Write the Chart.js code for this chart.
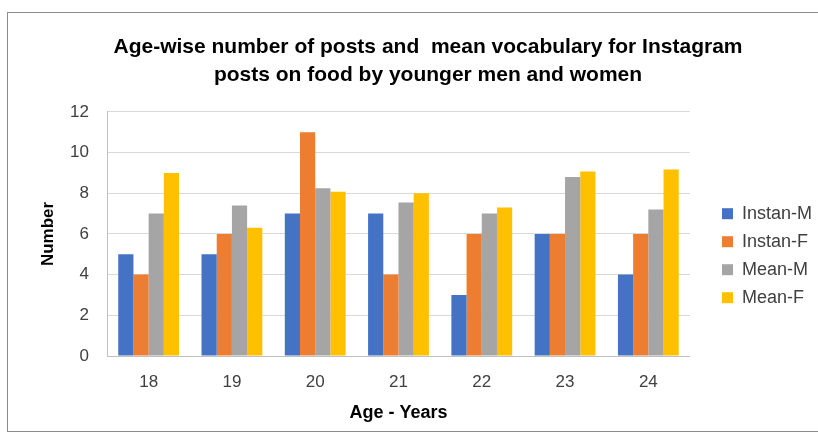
<!DOCTYPE html>
<html>
<head>
<meta charset="utf-8">
<script src="https://cdn.jsdelivr.net/npm/chart.js@4"></script>
<style>
  body { margin: 0; background: #fff; }
  #frame { position: absolute; left: 7px; top: 12px; width: 830px; height: 418px; border: 1px solid #8c8c8c; }
  #wrap { position: absolute; left: 0; top: 0; width: 818px; height: 436px; }
</style>
</head>
<body>
<div id="frame"></div>
<div id="wrap"><canvas id="chart"></canvas></div>
<script>
const ages = ["18", "19", "20", "21", "22", "23", "24"];
const instanM = [5, 5, 7, 7, 3, 6, 4];
const instanF = [4, 6, 11, 4, 6, 6, 6];
const meanM = [7, 7.4, 8.25, 7.55, 7, 8.8, 7.2];
const meanF = [9, 6.3, 8.07, 8, 7.3, 9.07, 9.17];
const yTicks = [0, 2, 4, 6, 8, 10, 12];

// legend sits a bit away from the plot, like the original
const legendGap = {
  id: "legendGap",
  beforeLayout(chart) {
    const lg = chart.legend;
    if (lg && !lg._wrapped) {
      const fit = lg.fit.bind(lg);
      lg.fit = function () { fit(); this.width += 18; };
      lg._wrapped = true;
    }
  },
  afterLayout(chart) {
    chart.legend.left += 22;
    chart.legend.right += 22;
  }
};

const ctx = document.getElementById("chart");
new Chart(ctx, {
  type: "bar",
  data: {
    labels: ages,
    datasets: [
      { label: "Instan-M", data: instanM, backgroundColor: "#4472c4" },
      { label: "Instan-F", data: instanF, backgroundColor: "#ed7d31" },
      { label: "Mean-M", data: meanM, backgroundColor: "#a5a5a5" },
      { label: "Mean-F", data: meanF, backgroundColor: "#ffc000" }
    ]
  },
  options: {
    responsive: true,
    maintainAspectRatio: false,
    animation: false,
    datasets: { bar: { categoryPercentage: 0.73, barPercentage: 1.0 } },
    layout: { padding: { left: 38, right: 0, top: 26, bottom: 8 } },
    plugins: {
      title: {
        display: true,
        text: ["Age-wise number of posts and  mean vocabulary for Instagram", "posts on food by younger men and women"],
        font: { family: "'Liberation Sans', Arial", size: 21, weight: "bold", lineHeight: 1.33 },
        color: "#000",
        padding: { top: 7, bottom: 23 }
      },
      legend: {
        position: "right",
        title: { display: true, text: " ", font: { size: 2 }, padding: { top: 0, bottom: 55 } },
        labels: {
          boxWidth: 11,
          boxHeight: 11,
          padding: 10,
          font: { family: "'Liberation Sans', Arial", size: 18 },
          color: "#404040"
        }
      },
      tooltip: { enabled: false }
    },
    scales: {
      x: {
        grid: { display: false },
        border: { color: "#bfbfbf" },
        ticks: { font: { family: "'Liberation Sans', Arial", size: 17 }, color: "#404040", padding: 8 },
        title: { display: true, text: "Age - Years", font: { family: "'Liberation Sans', Arial", size: 18, weight: "bold" }, color: "#000", padding: { top: 2 } }
      },
      y: {
        min: 0,
        max: 12,
        afterBuildTicks: axis => { axis.ticks = yTicks.map(v => ({ value: v })); },
        afterFit: axis => { axis.width = 69; },
        grid: { color: "#d9d9d9", drawTicks: false },
        border: { color: "#bfbfbf" },
        ticks: { font: { family: "'Liberation Sans', Arial", size: 17 }, color: "#404040", padding: 18 },
        title: { display: true, text: "Number", font: { family: "'Liberation Sans', Arial", size: 17, weight: "bold" }, color: "#000", padding: { top: 0, bottom: 0 } }
      }
    }
  },
  plugins: [legendGap]
});
</script>
</body>
</html>
